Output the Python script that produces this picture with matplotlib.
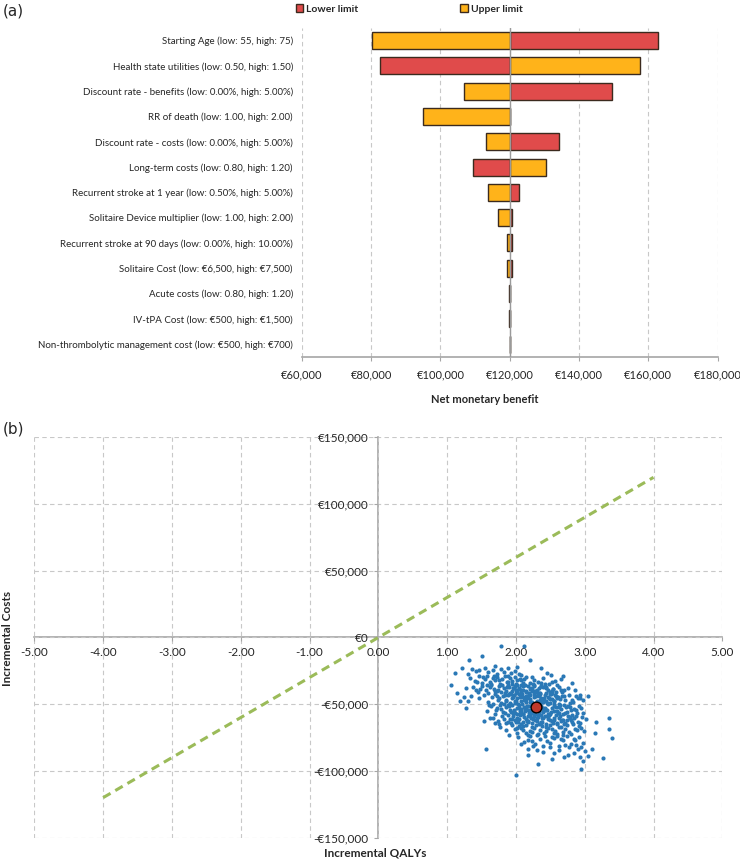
import matplotlib
matplotlib.use("Agg")
from matplotlib import pyplot as plt
from matplotlib.ticker import FuncFormatter, MultipleLocator
from matplotlib.patches import Patch

plt.rcParams['font.family'] = ['Lato', 'DejaVu Sans']
plt.rcParams['axes.unicode_minus'] = False

# ---- (a) tornado data ----
params = [
    "Starting Age (low: 55, high: 75)",
    "Health state utilities (low: 0.50, high: 1.50)",
    "Discount rate - benefits (low: 0.00%, high: 5.00%)",
    "RR of death (low: 1.00, high: 2.00)",
    "Discount rate - costs (low: 0.00%, high: 5.00%)",
    "Long-term costs (low: 0.80, high: 1.20)",
    "Recurrent stroke at 1 year (low: 0.50%, high: 5.00%)",
    "Solitaire Device multiplier (low: 1.00, high: 2.00)",
    "Recurrent stroke at 90 days (low: 0.00%, high: 10.00%)",
    "Solitaire Cost (low: \u20ac6,500, high: \u20ac7,500)",
    "Acute costs (low: 0.80, high: 1.20)",
    "IV-tPA Cost (low: \u20ac500, high: \u20ac1,500)",
    "Non-thrombolytic management cost (low: \u20ac500, high: \u20ac700)",
]
base_nmb = 120000
lower_limit = [162800, 82400, 149600, 120000, 134100, 109500, 122700,
               120700, 120700, 120700, 120150, 120100, 120080]
upper_limit = [80200, 157500, 106800, 94900, 113100, 130500, 113800,
               116700, 119200, 119300, 119850, 119900, 119920]

# ---- (b) PSA cloud: incremental QALYs / incremental costs ----
inc_qalys = [
    1.79, 2.12, 2.21, 1.50, 1.32, 1.21, 1.12, 1.06, 1.14, 1.28,
    1.24, 1.27, 1.31, 1.35, 1.18, 1.57, 2.00, 2.32, 2.52, 2.17,
    2.25, 2.75, 2.95, 2.93, 3.00, 3.10, 3.26, 3.39, 3.35, 3.35,
    3.17, 3.15, 3.05, 2.93, 2.82, 2.01, 1.53, 1.69, 1.62, 1.89,
    1.36, 1.42, 1.47, 1.55, 1.60, 1.66, 1.72, 1.78, 1.83, 1.88,
    1.93, 1.98, 2.04, 1.30, 2.37, 2.51, 2.68, 2.45, 1.70, 2.02,
    1.33, 1.40, 1.46, 1.50, 1.55, 1.58, 1.62, 1.66, 1.70, 1.73,
    1.77, 1.80, 1.84, 1.87, 1.91, 1.94, 1.98, 2.02, 2.06, 2.10,
    2.15, 2.20, 2.26, 2.32, 2.40, 2.48, 2.57, 2.66, 1.52, 1.64,
    1.75, 1.89, 2.00, 2.12, 2.23, 1.44, 1.68, 1.95, 2.08, 2.36,
    1.38, 1.45, 1.51, 1.56, 1.60, 1.64, 1.68, 1.72, 1.76, 1.79,
    1.82, 1.86, 1.89, 1.92, 1.96, 1.99, 2.02, 2.05, 2.08, 2.11,
    2.14, 2.17, 2.20, 2.24, 2.27, 2.31, 2.35, 2.39, 2.44, 2.49,
    2.54, 2.60, 2.67, 2.75, 2.86, 1.48, 1.62, 1.74, 1.84, 1.94,
    2.04, 2.13, 2.22, 2.29, 2.37, 2.46, 2.58, 2.70, 1.42, 1.58,
    1.70, 1.80, 1.90, 2.00, 2.10, 2.19, 2.33, 2.42, 2.52, 2.63,
    1.46, 1.53, 1.59, 1.65, 1.70, 1.74, 1.78, 1.81, 1.85, 1.88,
    1.91, 1.94, 1.97, 2.00, 2.03, 2.06, 2.09, 2.12, 2.15, 2.18,
    2.21, 2.24, 2.27, 2.30, 2.33, 2.36, 2.39, 2.42, 2.45, 2.48,
    2.51, 2.55, 2.59, 2.63, 2.67, 2.72, 2.77, 2.83, 2.90, 2.97,
    1.76, 1.86, 1.96, 2.05, 2.14, 2.23, 2.32, 2.41, 2.50, 2.61,
    1.67, 1.83, 2.01, 2.19, 2.37, 2.53, 2.70, 2.87, 1.99, 2.28,
    1.72, 1.90, 2.08, 2.26, 2.44, 2.57, 2.79, 2.93, 2.11, 2.35,
    1.58, 1.64, 1.69, 1.73, 1.77, 1.81, 1.85, 1.89, 1.92, 1.95,
    1.98, 2.01, 2.04, 2.07, 2.10, 2.13, 2.16, 2.19, 2.22, 2.25,
    2.28, 2.31, 2.34, 2.37, 2.40, 2.43, 2.46, 2.49, 2.52, 2.55,
    2.58, 2.62, 2.66, 2.70, 2.74, 2.78, 2.82, 2.87, 2.92, 2.98,
    1.79, 1.88, 1.97, 2.06, 2.15, 2.24, 2.33, 2.42, 2.51, 2.60,
    1.71, 1.84, 2.02, 2.12, 2.21, 2.39, 2.56, 2.68, 2.80, 2.94,
    1.61, 2.08, 2.29, 2.47, 2.64, 2.76, 2.89, 1.93, 2.18, 2.36,
    1.66, 1.74, 1.80, 1.86, 1.91, 1.96, 2.00, 2.04, 2.08, 2.12,
    2.16, 2.20, 2.24, 2.28, 2.32, 2.36, 2.40, 2.44, 2.48, 2.52,
    2.56, 2.60, 2.64, 2.68, 2.72, 2.76, 2.80, 2.85, 2.90, 2.96,
    3.02, 1.83, 1.98, 2.10, 2.22, 2.34, 2.46, 2.58, 2.70, 2.82,
    1.76, 1.93, 2.06, 2.18, 2.30, 2.42, 2.54, 2.66, 2.78, 2.93,
    2.02, 2.14, 2.26, 2.38, 2.50, 2.62, 2.74, 2.87, 2.25, 2.55,
    1.77, 1.86, 1.94, 2.02, 2.08, 2.14, 2.20, 2.26, 2.32, 2.38,
    2.44, 2.50, 2.56, 2.62, 2.68, 2.74, 2.80, 2.86, 2.92, 2.99,
    1.90, 2.05, 2.17, 2.29, 2.41, 2.53, 2.65, 2.77, 2.89, 2.35,
    1.98, 2.11, 2.23, 2.47, 2.59, 2.71, 2.83, 2.95, 2.15, 2.60,
    2.03, 2.12, 2.20, 2.28, 2.35, 2.42, 2.49, 2.56, 2.62, 2.68,
    2.74, 2.80, 2.86, 2.92, 2.97, 2.17, 2.31, 2.45, 2.59, 2.71,
    2.84, 2.95, 2.39, 2.53, 2.65, 2.24, 2.88, 2.07, 2.77, 2.50,
    2.40, 2.62, 2.85, 2.18, 2.97, 2.70, 2.55, 2.30, 2.90, 3.05,
    1.87, 1.93, 1.99, 2.05, 2.11, 2.17, 2.23, 2.29, 2.35, 2.41,
    2.47, 2.53, 2.59, 1.90, 1.96, 2.02, 2.08, 2.14, 2.20, 2.26,
    2.32, 2.38, 2.44, 2.50, 2.56, 2.62, 1.95, 2.01, 2.07, 2.13,
    2.19, 2.25, 2.31, 2.37, 2.43, 2.49, 2.55, 2.61, 2.67, 1.84,
    1.92, 2.00, 2.06, 2.16, 2.27, 2.34, 2.45, 2.54, 2.64, 2.73,
    2.09, 2.21, 2.30, 2.40, 2.18, 2.28, 2.48, 2.58, 2.03, 2.13,
    1.88, 1.97, 2.07, 2.25, 2.35, 2.46, 2.52, 2.66, 2.72, 2.81,
    2.10, 2.23, 2.36, 2.44, 2.57, 2.69, 2.78, 2.85, 2.40, 2.15,
]
inc_costs = [
    -6700, -6500, -17200, -14200, -16700, -22700, -26500, -35500, -41500, -38000,
    -44700, -52700, -47500, -44000, -47900, -83700, -103100, -94600, -90900, -83900,
    -81400, -87900, -98600, -89600, -85400, -83900, -90600, -75200, -68900, -60200,
    -63400, -71400, -43500, -45200, -34000, -67700, -62700, -63900, -60500, -63500,
    -23500, -25100, -24000, -22800, -26200, -24400, -27000, -23900, -25600, -22600,
    -26800, -24900, -27500, -27600, -22900, -28400, -28500, -26300, -21500, -21800,
    -30200, -32800, -29100, -34100, -31000, -28800, -33500, -30400, -32200, -29500,
    -34500, -31200, -28900, -33300, -30700, -34800, -29600, -32000, -30900, -33900,
    -29300, -34200, -31500, -33000, -30100, -34600, -32400, -30800, -29800, -34900,
    -31800, -29000, -35000, -31400, -29700, -33600, -28600, -32600, -28400, -34400,
    -37200, -40800, -36100, -39500, -41600, -35800, -38700, -40300, -36700, -41200,
    -37600, -39900, -35400, -41800, -38200, -36500, -40600, -37900, -35900, -39300,
    -41000, -36300, -38800, -40100, -35600, -39000, -41400, -37300, -36900, -40500,
    -38400, -35900, -41100, -37800, -39700, -38300, -37400, -39000, -41900, -40200,
    -38600, -35300, -37500, -40700, -36200, -39400, -40900, -39200, -39600, -35500,
    -40000, -35700, -37100, -41500, -36600, -41700, -38100, -35200, -41900, -37000,
    -45600, -43200, -48300, -44800, -42600, -47100, -49300, -44200, -46500, -42900,
    -48800, -45100, -43400, -47600, -49800, -44500, -42300, -46900, -48100, -43700,
    -45900, -49500, -42700, -47300, -44000, -48600, -46200, -43000, -49100, -45400,
    -42400, -47800, -44600, -49700, -43500, -46700, -42800, -48500, -45300, -47000,
    -45000, -47900, -44300, -42100, -46000, -48200, -43300, -45700, -48900, -44900,
    -49600, -49900, -45600, -42400, -45000, -46300, -43900, -44100, -49200, -49700,
    -43800, -42500, -47700, -44700, -47500, -43100, -49400, -42900, -44300, -42200,
    -55200, -51400, -57300, -53000, -50600, -55900, -52400, -57800, -54100, -50900,
    -56400, -52800, -50300, -55400, -57100, -53500, -51100, -56700, -54400, -50700,
    -57600, -53800, -55800, -51600, -56100, -54700, -50200, -57400, -52600, -55100,
    -51800, -56900, -53300, -50500, -55600, -52100, -57900, -54000, -51200, -56300,
    -53700, -50400, -54600, -57700, -52300, -56600, -50800, -53200, -56200, -54800,
    -54200, -56500, -57500, -51900, -57300, -52900, -50100, -57200, -54300, -52700,
    -50400, -53600, -53200, -57300, -50900, -51300, -56800, -55700, -54600, -57900,
    -60300, -62700, -59100, -64400, -61200, -58600, -63500, -60800, -64900, -59700,
    -62300, -58900, -64100, -61700, -59400, -63100, -60500, -64700, -58400, -62600,
    -60100, -63800, -59000, -61900, -64300, -58700, -62100, -60600, -63600, -59500,
    -61400, -61300, -61900, -63200, -60000, -64600, -61000, -58300, -64800, -63000,
    -64500, -64000, -58200, -63700, -62900, -58500, -64200, -62400, -59900, -64100,
    -60200, -60900, -58800, -60400, -61600, -60700, -61500, -58900, -61100, -62200,
    -66800, -69400, -65700, -71200, -67600, -65300, -70300, -68100, -72600, -66200,
    -69800, -65900, -71800, -67300, -70800, -65500, -72200, -68600, -66500, -70000,
    -72900, -66000, -72700, -65800, -71500, -68900, -66900, -71000, -69200, -69000,
    -68400, -69600, -67000, -67500, -72300, -68200, -65200, -67800, -71600, -65100,
    -74800, -78300, -73600, -80100, -76200, -74100, -79200, -75500, -81300, -77100,
    -73900, -79700, -76500, -74400, -78800, -76800, -73400, -77900, -73700, -80500,
    -76000, -81700, -81600, -74600, -75900, -77500, -80900, -79500, -82100, -82400,
    -85800, -84200, -86900, -88300, -92300, -89500, -86500, -84500, -83600, -88800,
    -36800, -42000, -47400, -52500, -57600, -62800, -38900, -44100, -49000, -54300,
    -59300, -40400, -45300, -51500, -56300, -61600, -39700, -43600, -48700, -53900,
    -58100, -63300, -37700, -42700, -47900, -52300, -60900, -35600, -40900, -45800,
    -51000, -55500, -60700, -36400, -41300, -46400, -51700, -56400, -61700, -43000,
    -50100, -39300, -54900, -45500, -36100, -41800, -54000, -38800, -46100, -52000,
    -49500, -43300, -50500, -48300, -58800, -39800, -57000, -43900, -63000, -55000,
    -33100, -38000, -31700, -35000, -46700, -44700, -33400, -39500, -56800, -47200,
    -66400, -70600, -64000, -67200, -69900, -73300, -60600, -53700, -55300, -40300,
]
mean_qaly = 2.29
mean_cost = -51900
wtp_qalys = [-4.0, 4.0]
wtp_costs = [-120000, 120000]

RED = '#E04B4B'
YELLOW = '#FFB31A'
EDGE = '#3B2A1E'
GRID = '#C8C8C8'
AXIS = '#A6A6A6'
TXT = '#262626'

fig = plt.figure(figsize=(7.4, 8.61), dpi=100)

# ================= (a) =================
ax1 = fig.add_axes([0.408, 0.5857, 0.5618, 0.3818])
ypos = list(range(len(params)))
ax1.barh(ypos, [v - base_nmb for v in lower_limit], left=base_nmb, height=0.67,
         color=RED, edgecolor=EDGE, linewidth=1.0, zorder=3)
ax1.barh(ypos, [v - base_nmb for v in upper_limit], left=base_nmb, height=0.67,
         color=YELLOW, edgecolor=EDGE, linewidth=1.0, zorder=3)
ax1.set_ylim(len(params) - 0.5, -0.5)
ax1.set_xlim(60000, 180000)
ax1.xaxis.set_major_locator(MultipleLocator(20000))
ax1.xaxis.set_major_formatter(FuncFormatter(lambda v, p: '\u20ac{:,.0f}'.format(v)))
ax1.set_yticks(ypos)
ax1.set_yticklabels(params, fontsize=7.0, color=TXT)
ax1.tick_params(axis='y', length=0, pad=6.5)
ax1.tick_params(axis='x', length=3, color=AXIS, labelsize=8, labelcolor=TXT, pad=6)
ax1.grid(axis='x', color=GRID, linestyle=(0, (4, 3)), linewidth=0.8, zorder=0)
for s in ['top', 'right', 'left']:
    ax1.spines[s].set_visible(False)
ax1.spines['bottom'].set_color(AXIS)
ax1.spines['bottom'].set_linewidth(1.2)
ax1.axvline(base_nmb, color='#9A9A9A', linewidth=1.0, zorder=4)

handles = [Patch(facecolor=RED, edgecolor=EDGE, linewidth=1.0, label='Lower limit'),
           Patch(facecolor=YELLOW, edgecolor=EDGE, linewidth=1.0, label='Upper limit')]
leg = fig.legend(handles=handles, loc='center left', bbox_to_anchor=(0.387, 0.9895),
                 ncol=2, frameon=False, handlelength=0.7, handleheight=0.7,
                 handletextpad=0.3, columnspacing=9.8, prop={'weight': 'bold', 'size': 7.5})
for t in leg.get_texts():
    t.set_color(TXT)

fig.text(485 / 740, 1 - 400 / 861, 'Net monetary benefit', fontsize=8, fontweight='bold',
         color=TXT, ha='center', va='center')
fig.text(0.004, 1 - 11 / 861, '(a)', fontsize=11, ha='left', va='center',
         family='DejaVu Sans', color=TXT)

# ================= (b) =================
ax2 = fig.add_axes([0.0464, 0.0271, 0.9297, 0.4650])
ax2.set_xlim(-5, 5)
ax2.set_ylim(-150000, 150000)
ax2.xaxis.set_major_locator(MultipleLocator(1))
ax2.yaxis.set_major_locator(MultipleLocator(50000))
ax2.xaxis.set_major_formatter(FuncFormatter(lambda v, p: '{:.2f}'.format(v)))
ax2.yaxis.set_major_formatter(FuncFormatter(
    lambda v, p: ('-\u20ac{:,.0f}'.format(-v) if v < 0 else '\u20ac{:,.0f}'.format(v))))
ax2.grid(True, color=GRID, linestyle=(0, (4, 3)), linewidth=0.8, zorder=0)
for s in ['top', 'right']:
    ax2.spines[s].set_visible(False)
ax2.spines['left'].set_position(('data', 0))
ax2.spines['bottom'].set_position(('data', 0))
for s in ['left', 'bottom']:
    ax2.spines[s].set_color(AXIS)
    ax2.spines[s].set_linewidth(1.2)
    ax2.spines[s].set_zorder(1)
ax2.tick_params(axis='both', length=3, color=AXIS, labelsize=8.5, labelcolor=TXT)
ax2.tick_params(axis='x', pad=4)
ax2.tick_params(axis='y', pad=4)

ax2.plot(wtp_qalys, wtp_costs, color='#9BBB59', linewidth=2.2,
         linestyle=(0, (2.8, 1.8)), zorder=2)
ax2.scatter(inc_qalys, inc_costs, s=9, color='#2A78B6', linewidths=0, zorder=3)
ax2.scatter([mean_qaly], [mean_cost], s=60, color='#C0392B', edgecolors='black',
            linewidths=1.0, zorder=4)

fig.text(375 / 740, 1 - 853 / 861, 'Incremental QALYs', fontsize=8.5, fontweight='bold',
         color=TXT, ha='center', va='center')
fig.text(8 / 740, 1 - 638 / 861, 'Incremental Costs', fontsize=8.5, fontweight='bold',
         color=TXT, ha='center', va='center', rotation=90)
fig.text(0.004, 1 - 429 / 861, '(b)', fontsize=11, ha='left', va='center',
         family='DejaVu Sans', color=TXT)

fig.savefig('out.png', dpi=100, facecolor='white')
